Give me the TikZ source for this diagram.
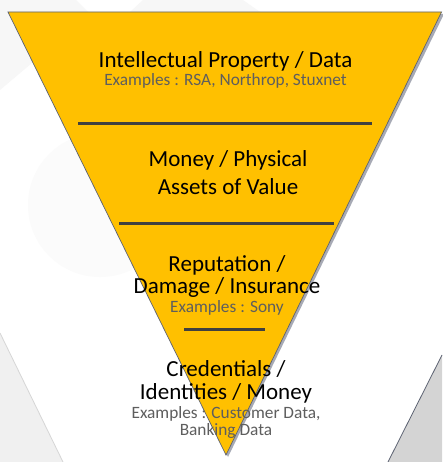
\documentclass[tikz,border=0pt]{standalone}
\usepackage{fontspec}
\setmainfont{Carlito}
\begin{document}
\begin{tikzpicture}[x=1pt,y=-1pt,
  bigtext/.style={font=\fontsize{23}{23}\selectfont, text=black, inner sep=0pt, anchor=base},
  smalltext/.style={font=\fontsize{17.3}{17.3}\selectfont, text=exgray, inner sep=0pt, anchor=base},
  divider/.style={draw=divgray, line width=3pt},
]
\definecolor{gold}{HTML}{FFC000}
\definecolor{exgray}{HTML}{5E5E5E}
\definecolor{divgray}{HTML}{404040}
\definecolor{edgegray}{HTML}{5C6272}
\definecolor{shadowgray}{HTML}{A7AAB5}
\definecolor{faint}{HTML}{F7F7F7}
\definecolor{fainter}{HTML}{FBFBFB}

% canvas
\path[fill=white] (0,0) rectangle (442,462);
\useasboundingbox (0,0) rectangle (442,462);

% faint background panels
\fill[faint] (0,0) -- (76,0) -- (90,14) -- (0,90) -- cycle;
\fill[faint] (130,12) -- (143,0) -- (243,0) -- (260,12) -- cycle;
\fill[fainter] (100,205) circle (72);
\fill[white!94!black] (0,333) -- (63,462) -- (0,462) -- cycle;
\draw[white!84!black, line width=0.8pt] (0,333) -- (63,462);
\fill[white!83!black] (442,355) -- (442,462) -- (388,462) -- cycle;
\draw[edgegray, line width=0.8pt] (442,355) -- (388,462);

% inverted triangle with drop shadow
\fill[shadowgray] (10,14) -- (444,14) -- (228,457) -- cycle;
\draw[fill=gold, draw=edgegray, line width=0.7pt] (8,12) -- (441.5,12) -- (226,455) -- cycle;

% separators between levels
\coordinate (d1l) at (78,124);  \coordinate (d1r) at (372,124);
\coordinate (d2l) at (119,223); \coordinate (d2r) at (334,223);
\coordinate (d3l) at (184,329); \coordinate (d3r) at (265,329);
\draw[divider] (d1l) -- (d1r);
\draw[divider] (d2l) -- (d2r);
\draw[divider] (d3l) -- (d3r);

% level 1
\node[bigtext]   (ip)    at (225.5,68)  {Intellectual Property / Data};
\node[smalltext] (ipex)  at (225.5,86)  {Examples : RSA, Northrop, Stuxnet};
% level 2
\node[bigtext]   (mon1)  at (228,167)   {Money / Physical};
\node[bigtext]   (mon2)  at (228,194)   {Assets of Value};
% level 3
\node[bigtext]   (rep1)  at (227,271)   {Reputation /};
\node[bigtext]   (rep2)  at (227,293)   {Damage / Insurance};
\node[smalltext] (repex) at (227,312)   {Examples : Sony};
% level 4
\node[bigtext]   (cr1)   at (226,376)   {Credentials /};
\node[bigtext]   (cr2)   at (226,399)   {Identities / Money};
\node[smalltext] (crex1) at (226,418)   {Examples : Customer Data,};
\node[smalltext] (crex2) at (226,435)   {Banking Data};
\end{tikzpicture}
\end{document}
